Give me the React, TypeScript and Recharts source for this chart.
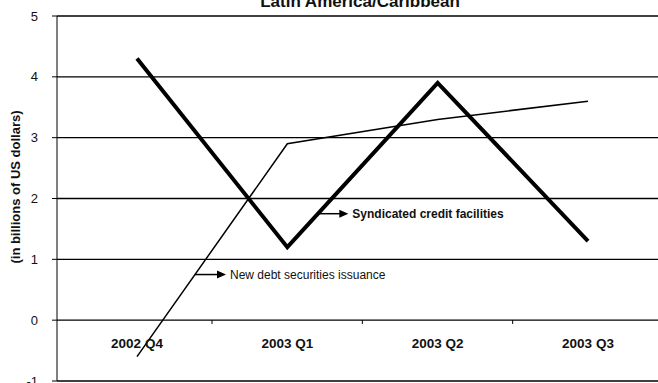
import React from 'react';
import { LineChart, Line, XAxis, YAxis, CartesianGrid, ReferenceDot } from 'recharts';

const quarters = ['2002 Q4', '2003 Q1', '2003 Q2', '2003 Q3'];
const syndicated = [4.3, 1.2, 3.9, 1.3];
const newDebt = [-0.6, 2.9, 3.3, 3.6];
const yTicks = [-1, 0, 1, 2, 3, 4, 5];

const data = quarters.map((q, i) => ({ q, syndicated: syndicated[i], newDebt: newDebt[i] }));

const FONT = 'Arial, "Liberation Sans", sans-serif';
const HALF_BAND = 75; // half the distance between two quarters
const ZERO_OFFSET = 61; // plot bottom (-1) to the 0 line

const QuarterTick = (props: any) => {
  const { x, y, payload, index } = props;
  return (
    <g>
      <text x={x} y={y - 33} textAnchor="middle" fontFamily={FONT} fontSize={13.5} fontWeight="bold" fill="#111">
        {payload.value}
      </text>
      {index < quarters.length - 1 && (
        <line x1={x + HALF_BAND} x2={x + HALF_BAND} y1={y - ZERO_OFFSET} y2={y - ZERO_OFFSET + 4} stroke="#000" />
      )}
    </g>
  );
};

// arrow + text callout, anchored at a data point
const Callout = (text: string, dx: number, bold: boolean) => (props: any) => {
  const { cx, cy } = props;
  const x0 = cx + dx;
  return (
    <g>
      <line x1={x0} x2={x0 + 24} y1={cy} y2={cy} stroke="#000" strokeWidth={1.5} />
      <path d={`M${x0 + 22},${cy - 4} L${x0 + 31},${cy} L${x0 + 22},${cy + 4} Z`} fill="#000" />
      <text x={x0 + 35} y={cy + 4.5} fontFamily={FONT} fontSize={12} fontWeight={bold ? 'bold' : 'normal'} fill="#111">
        {text}
      </text>
    </g>
  );
};

const AxisTitle = (props: any) => {
  const cx = 15;
  const cy = 187;
  return (
    <text
      x={cx}
      y={cy}
      transform={`rotate(-90 ${cx} ${cy})`}
      textAnchor="middle"
      dominantBaseline="central"
      fontFamily={FONT}
      fontSize={13}
      fontWeight="bold"
      fill="#111"
    >
      (in billions of US dollars)
    </text>
  );
};

export default function App() {
  return (
    <div style={{ position: 'absolute', left: 0, top: 0, width: 658, height: 383, background: '#fff', overflow: 'hidden' }}>
      <div
        style={{
          position: 'absolute', left: 0, width: 720, top: -7, textAlign: 'center',
          fontFamily: FONT, fontSize: 17, fontWeight: 'bold', lineHeight: '17px', color: '#111',
        }}
      >
        Latin America/Caribbean
      </div>
      <LineChart width={658} height={383} data={data} margin={{ top: 16, right: 0, bottom: 1, left: 0 }}>
        <CartesianGrid vertical={false} stroke="#000" strokeWidth={1.4} />
        <XAxis
          dataKey="q"
          height={1}
          axisLine={false}
          tickLine={false}
          tickSize={0}
          tickMargin={0}
          padding={{ left: 80, right: 70 }}
          tick={QuarterTick}
          interval={0}
        />
        <YAxis
          width={57}
          domain={[-1, 5]}
          ticks={yTicks}
          interval={0}
          axisLine={{ stroke: '#000' }}
          tickLine={{ stroke: '#000' }}
          tickSize={5}
          tickMargin={14}
          tick={{ fontFamily: FONT, fontSize: 13, fill: '#111' }}
          label={<AxisTitle />}
        />
        <Line type="linear" dataKey="newDebt" stroke="#000" strokeWidth={1.5} dot={false} isAnimationActive={false} />
        <Line type="linear" dataKey="syndicated" stroke="#000" strokeWidth={4} dot={false} isAnimationActive={false} />
        <ReferenceDot x="2003 Q1" y={1.75} shape={Callout('Syndicated credit facilities', 30, true)} />
        <ReferenceDot x="2002 Q4" y={0.75} shape={Callout('New debt securities issuance', 58, false)} />
      </LineChart>
    </div>
  );
}
